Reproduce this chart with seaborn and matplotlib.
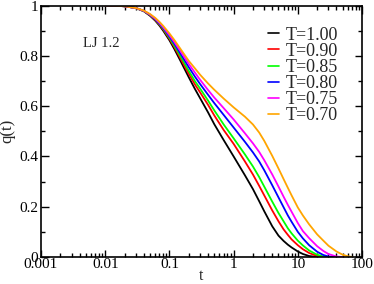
import numpy as np
import pandas as pd
import matplotlib
matplotlib.use("Agg")
import matplotlib.pyplot as plt
import seaborn as sns
from matplotlib.ticker import FixedLocator, LogLocator, NullFormatter, MultipleLocator

sns.set_theme(style="ticks")
plt.rcParams["font.family"] = ["Liberation Serif", "DejaVu Serif"]

nan = np.nan

# time grid
t = [0.01, 0.015, 0.02, 0.03, 0.04, 0.05, 0.06, 0.07, 0.08, 0.1, 0.12, 0.15,
     0.2, 0.25, 0.3, 0.4, 0.5, 0.7, 1, 1.5, 2, 2.5, 3, 4, 5, 6, 7, 8, 10, 12,
     15, 20, 25, 30, 40, 50, 60, 70]

q_100 = [1.0, 0.999, 0.997, 0.99, 0.977, 0.959, 0.94, 0.92, 0.90, 0.862, 0.826,
         0.778, 0.715, 0.668, 0.632, 0.575, 0.528, 0.465, 0.40, 0.325, 0.27,
         0.222, 0.182, 0.122, 0.085, 0.064, 0.049, 0.038, 0.022, 0.012, 0.004,
         0.0, nan, nan, nan, nan, nan, nan]
q_090 = [1.0, 0.999, 0.997, 0.99, 0.978, 0.961, 0.943, 0.924, 0.905, 0.868, 0.834,
         0.788, 0.729, 0.686, 0.655, 0.605, 0.563, 0.505, 0.45, 0.38, 0.328,
         0.283, 0.245, 0.185, 0.142, 0.11, 0.088, 0.07, 0.047, 0.031, 0.016,
         0.004, 0.0, nan, nan, nan, nan, nan]
q_085 = [1.0, 0.999, 0.997, 0.99, 0.978, 0.962, 0.945, 0.926, 0.908, 0.872, 0.84,
         0.797, 0.74, 0.699, 0.67, 0.622, 0.583, 0.527, 0.472, 0.408, 0.36,
         0.318, 0.28, 0.22, 0.175, 0.142, 0.114, 0.094, 0.065, 0.046, 0.026,
         0.009, 0.002, 0.0, nan, nan, nan, nan]
q_080 = [1.0, 0.999, 0.997, 0.99, 0.979, 0.963, 0.946, 0.928, 0.911, 0.877, 0.847,
         0.807, 0.755, 0.717, 0.688, 0.645, 0.612, 0.565, 0.515, 0.458, 0.416,
         0.38, 0.345, 0.285, 0.237, 0.198, 0.165, 0.14, 0.10, 0.074, 0.047,
         0.021, 0.008, 0.002, 0.0, nan, nan, nan]
q_075 = [1.0, 0.999, 0.997, 0.99, 0.979, 0.964, 0.948, 0.931, 0.914, 0.882, 0.854,
         0.817, 0.768, 0.733, 0.705, 0.664, 0.634, 0.592, 0.547, 0.492, 0.452,
         0.418, 0.385, 0.328, 0.28, 0.24, 0.207, 0.18, 0.135, 0.103, 0.075,
         0.043, 0.024, 0.012, 0.002, 0.0, nan, nan]
q_070 = [1.0, 0.999, 0.997, 0.99, 0.98, 0.966, 0.951, 0.935, 0.919, 0.889, 0.862,
         0.826, 0.78, 0.75, 0.725, 0.69, 0.665, 0.63, 0.595, 0.558, 0.527,
         0.495, 0.462, 0.402, 0.352, 0.31, 0.275, 0.245, 0.197, 0.165, 0.13,
         0.09, 0.065, 0.045, 0.022, 0.009, 0.003, 0.0]

labels = ["T=1.00", "T=0.90", "T=0.85", "T=0.80", "T=0.75", "T=0.70"]
colors = ["black", "red", "#00ff00", "blue", "#ff00ff", "#ffa500"]
series = [q_100, q_090, q_085, q_080, q_075, q_070]

frames = []
for lab, q in zip(labels, series):
    frames.append(pd.DataFrame({"t": t, "q": q, "T": lab}))
df = pd.concat(frames, ignore_index=True).dropna()

fig = plt.figure(figsize=(3.74, 2.84), dpi=100)
ax = fig.add_axes([0.1096, 0.095, 0.8584, 0.8856])

sns.lineplot(data=df, x="t", y="q", hue="T", hue_order=labels,
             palette=dict(zip(labels, colors)), linewidth=1.3, ax=ax,
             estimator=None, sort=True)

ax.set_xscale("log")
ax.set_xlim(0.001, 100)
ax.set_ylim(0, 1)

ax.xaxis.set_major_locator(FixedLocator([0.001, 0.01, 0.1, 1, 10, 100]))
ax.set_xticklabels(["0.001", "0.01", "0.1", "1", "10", "100"])
ax.xaxis.set_minor_locator(LogLocator(base=10, subs=np.arange(2, 10), numticks=20))
ax.xaxis.set_minor_formatter(NullFormatter())
ax.yaxis.set_major_locator(FixedLocator([0, 0.2, 0.4, 0.6, 0.8, 1]))
ax.set_yticklabels(["0", "0.2", "0.4", "0.6", "0.8", "1"])
ax.yaxis.set_minor_locator(MultipleLocator(0.1))

ax.tick_params(which="both", direction="in", top=True, right=True,
               labelsize=11, colors="black", width=1.0)
ax.tick_params(which="major", length=5.4, pad=2)
ax.tick_params(axis="x", which="major", pad=1)
ax.tick_params(which="minor", length=2.9)
for s in ax.spines.values():
    s.set_linewidth(1.2)
    s.set_color("black")

ax.set_xlabel("t", fontsize=11.5, va="baseline")
ax.xaxis.set_label_coords(0.5, -0.092)
ax.set_ylabel("q(t)", fontsize=12, labelpad=2.5)

ax.text(0.131, 0.835, "LJ 1.2", transform=ax.transAxes, fontsize=10.5,
        va="baseline")

leg = ax.legend(loc="upper left", bbox_to_anchor=(0.706, 0.916), frameon=False,
                fontsize=13, handlelength=0.62, handletextpad=0.4,
                labelspacing=-0.05, borderpad=0, borderaxespad=0)
for line in leg.get_lines():
    line.set_linewidth(1.2)

fig.savefig("out.png", dpi=100)
